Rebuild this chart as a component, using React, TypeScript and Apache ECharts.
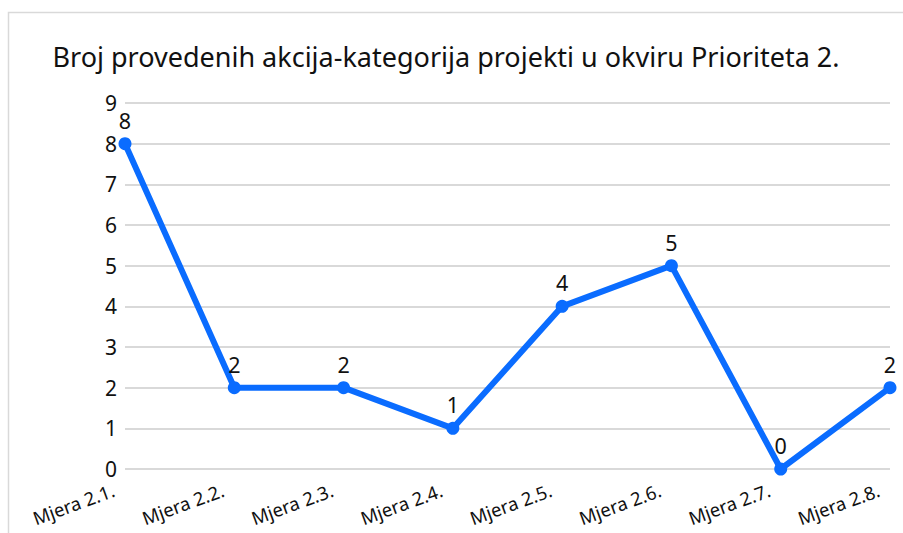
import React, { useEffect, useRef } from "react";
import * as echarts from "echarts";

const TITLE = "Broj provedenih akcija-kategorija projekti u okviru Prioriteta 2.";
const categories = ["Mjera 2.1.", "Mjera 2.2.", "Mjera 2.3.", "Mjera 2.4.", "Mjera 2.5.", "Mjera 2.6.", "Mjera 2.7.", "Mjera 2.8."];
const values = [8, 2, 2, 1, 4, 5, 0, 2];
const yMin = 0;
const yMax = 9;
const yInterval = 1;

const FONT = "'Noto Sans', 'Open Sans', sans-serif";

export default function App() {
  const ref = useRef<HTMLDivElement>(null);
  useEffect(() => {
    if (!ref.current) return;
    const chart = echarts.init(ref.current, null, { renderer: "svg" });
    chart.setOption({
      animation: false,
      backgroundColor: "#ffffff",
      title: {
        text: TITLE,
        left: 441,
        textAlign: "center",
        top: 38,
        textStyle: { fontFamily: FONT, fontSize: 27, fontWeight: "normal", color: "#111" },
      },
      graphic: [
        {
          type: "rect",
          shape: { x: 8.5, y: 12.5, width: 1000, height: 600 },
          style: { fill: "none", stroke: "#d9d9d9", lineWidth: 1.5 },
          silent: true,
        },
      ],
      grid: { left: 125, right: 13, top: 103, bottom: 64, containLabel: false },
      xAxis: {
        type: "category",
        data: categories,
        boundaryGap: false,
        axisLine: { show: false },
        axisTick: { show: false },
        axisLabel: {
          rotate: 20,
          fontFamily: FONT,
          fontSize: 18.5,
          color: "#111",
          margin: 16,
          padding: [0, 12, 0, 0],
        },
      },
      yAxis: {
        type: "value",
        min: yMin,
        max: yMax,
        interval: yInterval,
        axisLine: { show: false },
        axisTick: { show: false },
        axisLabel: { fontFamily: FONT, fontSize: 21, color: "#111", margin: 8 },
        splitLine: { lineStyle: { color: "#d9d9d9", width: 2 } },
      },
      series: [
        {
          type: "line",
          data: values,
          symbol: "circle",
          symbolSize: 13,
          itemStyle: { color: "#0a6cff" },
          lineStyle: { color: "#0a6cff", width: 6, join: "round" },
          label: {
            show: true,
            position: "top",
            distance: 6,
            fontFamily: FONT,
            fontSize: 21.5,
            color: "#111",
          },
        },
      ],
    });
    return () => chart.dispose();
  }, []);
  return (
    <div
      ref={ref}
      style={{ position: "fixed", left: 0, top: 0, width: 903, height: 533 }}
    />
  );
}
